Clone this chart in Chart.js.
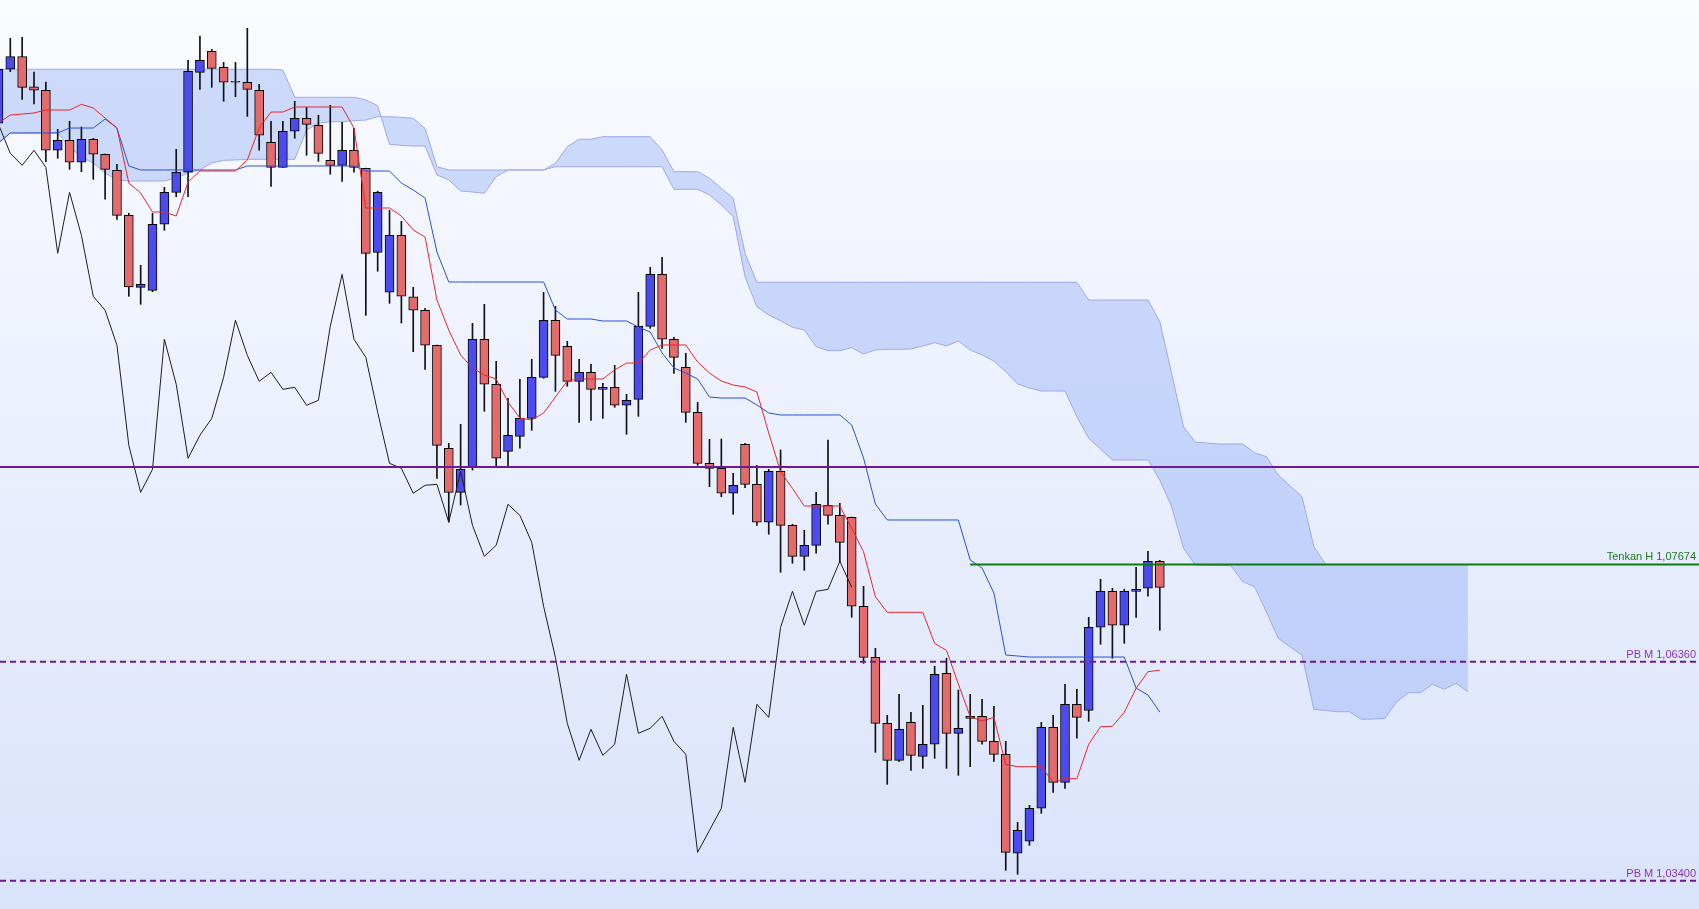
<!DOCTYPE html>
<html>
<head>
<meta charset="utf-8">
<title>Ichimoku</title>
<script src="https://cdn.jsdelivr.net/npm/chart.js@4.4.1/dist/chart.umd.min.js"></script>
<style>
    html, body { margin: 0; padding: 0; overflow: hidden; background: #fff; }
    #wrap { width: 1699px; height: 909px; }
    canvas { display: block; }
</style>
</head>
<body>
<div id="wrap"><canvas id="chart" width="1699" height="909"></canvas></div>
<script>
// Candles, oldest first
const opens = [
    1.13636, 1.14366, 1.14536, 1.14130, 1.14082, 1.13271, 1.13406, 1.13109, 1.13420, 1.13217,
    1.13001, 1.12392, 1.11419, 1.11379, 1.12271, 1.12703, 1.12974, 1.14325, 1.14609, 1.14393,
    1.14190, 1.14190, 1.14082, 1.13379, 1.13041, 1.13528, 1.13703, 1.13609, 1.13136, 1.13068,
    1.13271, 1.13028, 1.11892, 1.11352, 1.12122, 1.11292, 1.11109, 1.10636, 1.09244, 1.08649,
    1.08987, 1.10717, 1.10109, 1.09203, 1.09406, 1.09649, 1.10203, 1.10974, 1.10622, 1.10149,
    1.10271, 1.10041, 1.10068, 1.09825, 1.09906, 1.10892, 1.11595, 1.10717, 1.10338, 1.09730,
    1.09041, 1.08973, 1.08636, 1.09298, 1.08757, 1.08244, 1.08933, 1.08203, 1.07784, 1.07933,
    1.08473, 1.08338, 1.08311, 1.07109, 1.06419, 1.05527, 1.05027, 1.05541, 1.05081, 1.05244,
    1.06203, 1.05392, 1.05595, 1.05622, 1.05284, 1.05108, 1.03771, 1.03933, 1.04379, 1.05473,
    1.04730, 1.05784, 1.05703, 1.06825, 1.07311, 1.06852, 1.07311, 1.07352, 1.07717
];
const highs = [
    1.14410, 1.14784, 1.14798, 1.14329, 1.14194, 1.13555, 1.13663, 1.13586, 1.13433, 1.13220,
    1.13082, 1.12420, 1.11717, 1.12420, 1.12771, 1.13284, 1.14487, 1.14816, 1.14636, 1.14460,
    1.14460, 1.14920, 1.14163, 1.13663, 1.13663, 1.13933, 1.13852, 1.13744, 1.13879, 1.13649,
    1.13568, 1.13030, 1.12717, 1.12460, 1.12311, 1.11419, 1.11136, 1.10640, 1.09311, 1.09568,
    1.10933, 1.11190, 1.10419, 1.09919, 1.10176, 1.10446, 1.11352, 1.11163, 1.10690, 1.10446,
    1.10379, 1.10122, 1.10365, 1.09973, 1.11352, 1.11690, 1.11825, 1.10744, 1.10528, 1.09865,
    1.09365, 1.09369, 1.08906, 1.09311, 1.09014, 1.08960, 1.09221, 1.08217, 1.08136, 1.08649,
    1.09356, 1.08500, 1.08315, 1.07379, 1.06541, 1.05635, 1.05919, 1.05676, 1.05771, 1.06298,
    1.06406, 1.05977, 1.05919, 1.05852, 1.05757, 1.05284, 1.04189, 1.04419, 1.05541, 1.05635,
    1.06054, 1.05987, 1.06960, 1.07473, 1.07352, 1.07338, 1.07636, 1.07852, 1.07730
];
const lows = [
    1.13599, 1.14333, 1.13960, 1.13897, 1.13117, 1.13163, 1.13014, 1.12982, 1.12879, 1.12609,
    1.12338, 1.11298, 1.11190, 1.11360, 1.12190, 1.12644, 1.12644, 1.14095, 1.14122, 1.13933,
    1.13995, 1.13730, 1.13271, 1.12784, 1.13038, 1.13433, 1.13203, 1.13122, 1.12947, 1.12852,
    1.12974, 1.11041, 1.11636, 1.11203, 1.10937, 1.10549, 1.10311, 1.08838, 1.08248, 1.08477,
    1.08950, 1.09744, 1.08987, 1.08987, 1.09244, 1.09487, 1.10190, 1.10014, 1.10082, 1.09595,
    1.09622, 1.09649, 1.09798, 1.09433, 1.09676, 1.10865, 1.10595, 1.10257, 1.09595, 1.09014,
    1.08725, 1.08590, 1.08352, 1.08711, 1.08203, 1.08082, 1.07568, 1.07690, 1.07595, 1.07825,
    1.08217, 1.07703, 1.06960, 1.06338, 1.05135, 1.04703, 1.05014, 1.04892, 1.04919, 1.05054,
    1.04919, 1.04825, 1.04941, 1.05244, 1.05014, 1.03541, 1.03487, 1.03879, 1.04311, 1.04595,
    1.04649, 1.05325, 1.05554, 1.06595, 1.06406, 1.06608, 1.06960, 1.07244, 1.06784
];
const closes = [
    1.14366, 1.14536, 1.14122, 1.14082, 1.13271, 1.13406, 1.13109, 1.13420, 1.13217, 1.13014,
    1.12392, 1.11424, 1.11460, 1.12271, 1.12703, 1.12974, 1.14338, 1.14487, 1.14379, 1.14190,
    1.14190, 1.14095, 1.13474, 1.13041, 1.13528, 1.13703, 1.13622, 1.13230, 1.13068, 1.13271,
    1.13041, 1.11879, 1.12703, 1.12122, 1.11298, 1.11109, 1.10636, 1.09284, 1.08649, 1.08960,
    1.10717, 1.10109, 1.09109, 1.09419, 1.09649, 1.10203, 1.10974, 1.10500, 1.10149, 1.10271,
    1.10041, 1.10068, 1.09825, 1.09892, 1.10892, 1.11595, 1.10717, 1.10473, 1.09730, 1.09041,
    1.08973, 1.08636, 1.08744, 1.08757, 1.08244, 1.08933, 1.08203, 1.07784, 1.07933, 1.08487,
    1.08338, 1.07973, 1.07109, 1.06419, 1.05527, 1.05027, 1.05446, 1.05095, 1.05244, 1.06190,
    1.05392, 1.05460, 1.05622, 1.05284, 1.05108, 1.03784, 1.04081, 1.04379, 1.05473, 1.04730,
    1.05784, 1.05608, 1.06825, 1.07311, 1.06852, 1.07311, 1.07338, 1.07717, 1.07365
];

// Ichimoku lines
const tenkan = [
    1.13640, 1.13748, 1.13761, 1.13775, 1.13815, 1.13815, 1.13815, 1.13892, 1.13842, 1.13707,
    1.13572, 1.12829, 1.12694, 1.12437, 1.12437, 1.12383, 1.12842, 1.12991, 1.12991, 1.12991,
    1.12991, 1.13140, 1.13572, 1.13788, 1.13788, 1.13856, 1.13856, 1.13856, 1.13856, 1.13856,
    1.13572, 1.12491, 1.12491, 1.12491, 1.12383, 1.12194, 1.12099, 1.11248, 1.10842, 1.10505,
    1.10329, 1.10234, 1.10180, 1.09869, 1.09653, 1.09626, 1.09721, 1.09937, 1.10153, 1.10180,
    1.10180, 1.10180, 1.10302, 1.10396, 1.10396, 1.10572, 1.10640, 1.10640, 1.10640, 1.10410,
    1.10261, 1.10153, 1.10099, 1.10072, 1.10005, 1.09450, 1.08927, 1.08703, 1.08464, 1.08464,
    1.08464, 1.08464, 1.08163, 1.07846, 1.07238, 1.07027, 1.07027, 1.07027, 1.07027, 1.06608,
    1.06514, 1.06058, 1.05617, 1.05558, 1.05608, 1.04973, 1.04941, 1.04941, 1.04941, 1.04734,
    1.04779, 1.04779, 1.05244, 1.05481, 1.05487, 1.05676, 1.06000, 1.06225, 1.06244
];
const kijun = [
    1.13370, 1.13505, 1.13505, 1.13505, 1.13505, 1.13505, 1.13572, 1.13572, 1.13572, 1.13694,
    1.13572, 1.13059, 1.13005, 1.13005, 1.13005, 1.13005, 1.13005, 1.13005, 1.13005, 1.13005,
    1.13005, 1.13059, 1.13059, 1.13059, 1.13059, 1.13059, 1.13059, 1.13059, 1.13059, 1.13059,
    1.13059, 1.12991, 1.12991, 1.12991, 1.12829, 1.12734, 1.12626, 1.11897, 1.11491, 1.11491,
    1.11491, 1.11491, 1.11491, 1.11491, 1.11491, 1.11491, 1.11491, 1.11113, 1.10991, 1.10991,
    1.10991, 1.10964, 1.10964, 1.10964, 1.10883, 1.10815, 1.10532, 1.10329, 1.10261, 1.10180,
    1.09937, 1.09923, 1.09923, 1.09923, 1.09829, 1.09721, 1.09694, 1.09694, 1.09694, 1.09694,
    1.09694, 1.09694, 1.09559, 1.09113, 1.08491, 1.08275, 1.08275, 1.08275, 1.08275, 1.08275,
    1.08275, 1.08275, 1.07734, 1.07626, 1.07288, 1.06450, 1.06437, 1.06423, 1.06423, 1.06423,
    1.06423, 1.06423, 1.06423, 1.06423, 1.06423, 1.06423, 1.06004, 1.05910, 1.05680
];
// cloud edges, run 26 bars past the last candle
const spanA = [
    1.13370, 1.13505, 1.13505, 1.13505, 1.13505, 1.13505, 1.13315, 1.13180, 1.13099, 1.12964,
    1.12870, 1.12856, 1.12856, 1.12856, 1.12856, 1.12897, 1.12964, 1.13005, 1.13099, 1.13136,
    1.13140, 1.13149, 1.13149, 1.13149, 1.13149, 1.13149, 1.13545, 1.13636, 1.13657, 1.13657,
    1.13671, 1.13680, 1.13725, 1.13725, 1.13717, 1.13703, 1.13568, 1.13049, 1.13005, 1.13005,
    1.13005, 1.13005, 1.13005, 1.13005, 1.13005, 1.13005, 1.13005, 1.13095, 1.13320, 1.13420,
    1.13420, 1.13455, 1.13455, 1.13455, 1.13455, 1.13455, 1.13275, 1.12982, 1.12982, 1.12982,
    1.12893, 1.12757, 1.12622, 1.11879, 1.11487, 1.11487, 1.11487, 1.11487, 1.11487, 1.11487,
    1.11487, 1.11487, 1.11487, 1.11487, 1.11487, 1.11487, 1.11487, 1.11487, 1.11487, 1.11487,
    1.11487, 1.11487, 1.11487, 1.11487, 1.11487, 1.11487, 1.11487, 1.11487, 1.11487, 1.11487,
    1.11487, 1.11487, 1.11248, 1.11248, 1.11248, 1.11248, 1.11248, 1.11248, 1.10955, 1.10257,
    1.09536, 1.09325, 1.09315, 1.09302, 1.09302, 1.09302, 1.09184, 1.09130, 1.08883, 1.08734,
    1.08590, 1.07914, 1.07674, 1.07674, 1.07674, 1.07674, 1.07674, 1.07674, 1.07674, 1.07674,
    1.07674, 1.07674, 1.07674, 1.07674, 1.07674
];
const spanB = [
    1.14366, 1.14366, 1.14366, 1.14366, 1.14366, 1.14366, 1.14366, 1.14366, 1.14366, 1.14366,
    1.14366, 1.14366, 1.14366, 1.14366, 1.14366, 1.14366, 1.14366, 1.14366, 1.14366, 1.14366,
    1.14366, 1.14366, 1.14366, 1.14366, 1.14356, 1.13987, 1.13987, 1.13987, 1.13987, 1.13987,
    1.13987, 1.13951, 1.13874, 1.13352, 1.13338, 1.13329, 1.13329, 1.12937, 1.12870, 1.12721,
    1.12707, 1.12690, 1.12914, 1.13005, 1.13005, 1.13005, 1.13005, 1.13049, 1.13049, 1.13049,
    1.13049, 1.13049, 1.13049, 1.13049, 1.13049, 1.13049, 1.13049, 1.12744, 1.12744, 1.12744,
    1.12667, 1.12532, 1.12374, 1.11563, 1.11157, 1.11045, 1.10968, 1.10879, 1.10842, 1.10617,
    1.10563, 1.10563, 1.10603, 1.10518, 1.10572, 1.10582, 1.10582, 1.10586, 1.10626, 1.10671,
    1.10626, 1.10694, 1.10572, 1.10505, 1.10423, 1.10279, 1.10113, 1.10059, 1.10018, 1.10018,
    1.10018, 1.09671, 1.09379, 1.09234, 1.09086, 1.09086, 1.09086, 1.09086, 1.08815, 1.08455,
    1.07892, 1.07667, 1.07663, 1.07660, 1.07657, 1.07441, 1.07373, 1.07031, 1.06676, 1.06558,
    1.06450, 1.05716, 1.05700, 1.05684, 1.05684, 1.05581, 1.05585, 1.05595, 1.05819, 1.05941,
    1.05941, 1.06054, 1.05987, 1.06068, 1.05954
];

// chikou span: closes drawn 26 bars back
const SHIFT = 26;
const chikou = closes.slice(SHIFT);

// horizontal levels
const tenkanHigh = 1.07674;
const tenkanHighFrom = 82;
const pbLevels = [1.06360, 1.03400];
const midLevel = 1.0899;

// visible window
const X_MIN = 0.13, X_MAX = 143.5;
const Y_MIN = 1.03018, Y_MAX = 1.15302;

const RED = '#e36b6b';
const BLUE = '#4b4bee';
const PURPLE = '#6e1a96';

const pts = arr => arr.map((v, i) => ({ x: i, y: v }));
const flat = (v, from) => [{ x: from, y: v }, { x: X_MAX, y: v }];
const fmt = v => v.toFixed(5).replace('.', ',');

const levelTags = [
    { text: 'Tenkan H ' + fmt(tenkanHigh), value: tenkanHigh, color: '#1c7a1c' },
    { text: 'PB M ' + fmt(pbLevels[0]), value: pbLevels[0], color: '#8a35b8' },
    { text: 'PB M ' + fmt(pbLevels[1]), value: pbLevels[1], color: '#8a35b8' }
];

// page background
const backdrop = {
    id: 'backdrop',
    beforeDraw(chart) {
        const { ctx, width, height } = chart;
        const g = ctx.createLinearGradient(0, 0, 0, height);
        g.addColorStop(0, '#fbfcff');
        g.addColorStop(1, '#dae3fc');
        ctx.save();
        ctx.fillStyle = g;
        ctx.fillRect(0, 0, width, height);
        ctx.restore();
    }
};

// right-hand texts above the level lines
const levelLabels = {
    id: 'levelLabels',
    afterDatasetsDraw(chart) {
        const { ctx, chartArea, scales } = chart;
        ctx.save();
        ctx.font = '11px "Liberation Sans", Arial, sans-serif';
        ctx.textAlign = 'right';
        ctx.textBaseline = 'alphabetic';
        levelTags.forEach(t => {
            ctx.fillStyle = t.color;
            ctx.fillText(t.text, chartArea.right - 3, scales.y.getPixelForValue(t.value) - 4);
        });
        ctx.restore();
    }
};

const lineDefaults = { type: 'line', pointRadius: 0, borderWidth: 1, tension: 0, fill: false };

new Chart(document.getElementById('chart'), {
    type: 'bar',
    data: {
        datasets: [
            // cloud
            { ...lineDefaults, label: 'Senkou B', data: pts(spanB), borderColor: '#9fa9ec', order: 10 },
            { ...lineDefaults, label: 'Senkou A', data: pts(spanA), borderColor: '#9fa9ec',
              fill: '-1', backgroundColor: 'rgba(140,170,245,0.4)', order: 11 },
            // candles
            { type: 'bar', label: 'Wicks', data: closes.map((c, i) => ({ x: i, y: [lows[i], highs[i]] })),
              backgroundColor: '#111', borderWidth: 0, barThickness: 1, grouped: false, order: 6 },
            { type: 'bar', label: 'Bodies', data: closes.map((c, i) => ({ x: i, y: [opens[i], c] })),
              backgroundColor: closes.map((c, i) => c >= opens[i] ? BLUE : RED),
              borderColor: '#000', borderWidth: 1, borderSkipped: false, barThickness: 9,
              minBarLength: 1, grouped: false, order: 5 },
            // ichimoku lines
            { ...lineDefaults, label: 'Chikou', data: pts(chikou), borderColor: '#1e1e1e', order: 3 },
            { ...lineDefaults, label: 'Kijun', data: pts(kijun), borderColor: '#2852d6', order: 2 },
            { ...lineDefaults, label: 'Tenkan', data: pts(tenkan), borderColor: '#e8262a', order: 1 },
            // levels
            { ...lineDefaults, label: 'Level', data: flat(midLevel, X_MIN), borderColor: PURPLE, borderWidth: 2, order: 0 },
            { ...lineDefaults, label: 'Tenkan H', data: flat(tenkanHigh, tenkanHighFrom), borderColor: '#0b7d12', borderWidth: 2, order: 0 },
            { ...lineDefaults, label: 'PB M 1', data: flat(pbLevels[0], X_MIN), borderColor: PURPLE, borderWidth: 2, borderDash: [6, 4], order: 0 },
            { ...lineDefaults, label: 'PB M 2', data: flat(pbLevels[1], X_MIN), borderColor: PURPLE, borderWidth: 2, borderDash: [6, 4], order: 0 }
        ]
    },
    options: {
        responsive: false,
        animation: false,
        events: [],
        layout: { padding: 0 },
        plugins: {
            legend: { display: false },
            tooltip: { enabled: false }
        },
        scales: {
            x: { type: 'linear', min: X_MIN, max: X_MAX, offset: false, display: false },
            y: { type: 'linear', min: Y_MIN, max: Y_MAX, display: false }
        }
    },
    plugins: [backdrop, levelLabels]
});
</script>
</body>
</html>
